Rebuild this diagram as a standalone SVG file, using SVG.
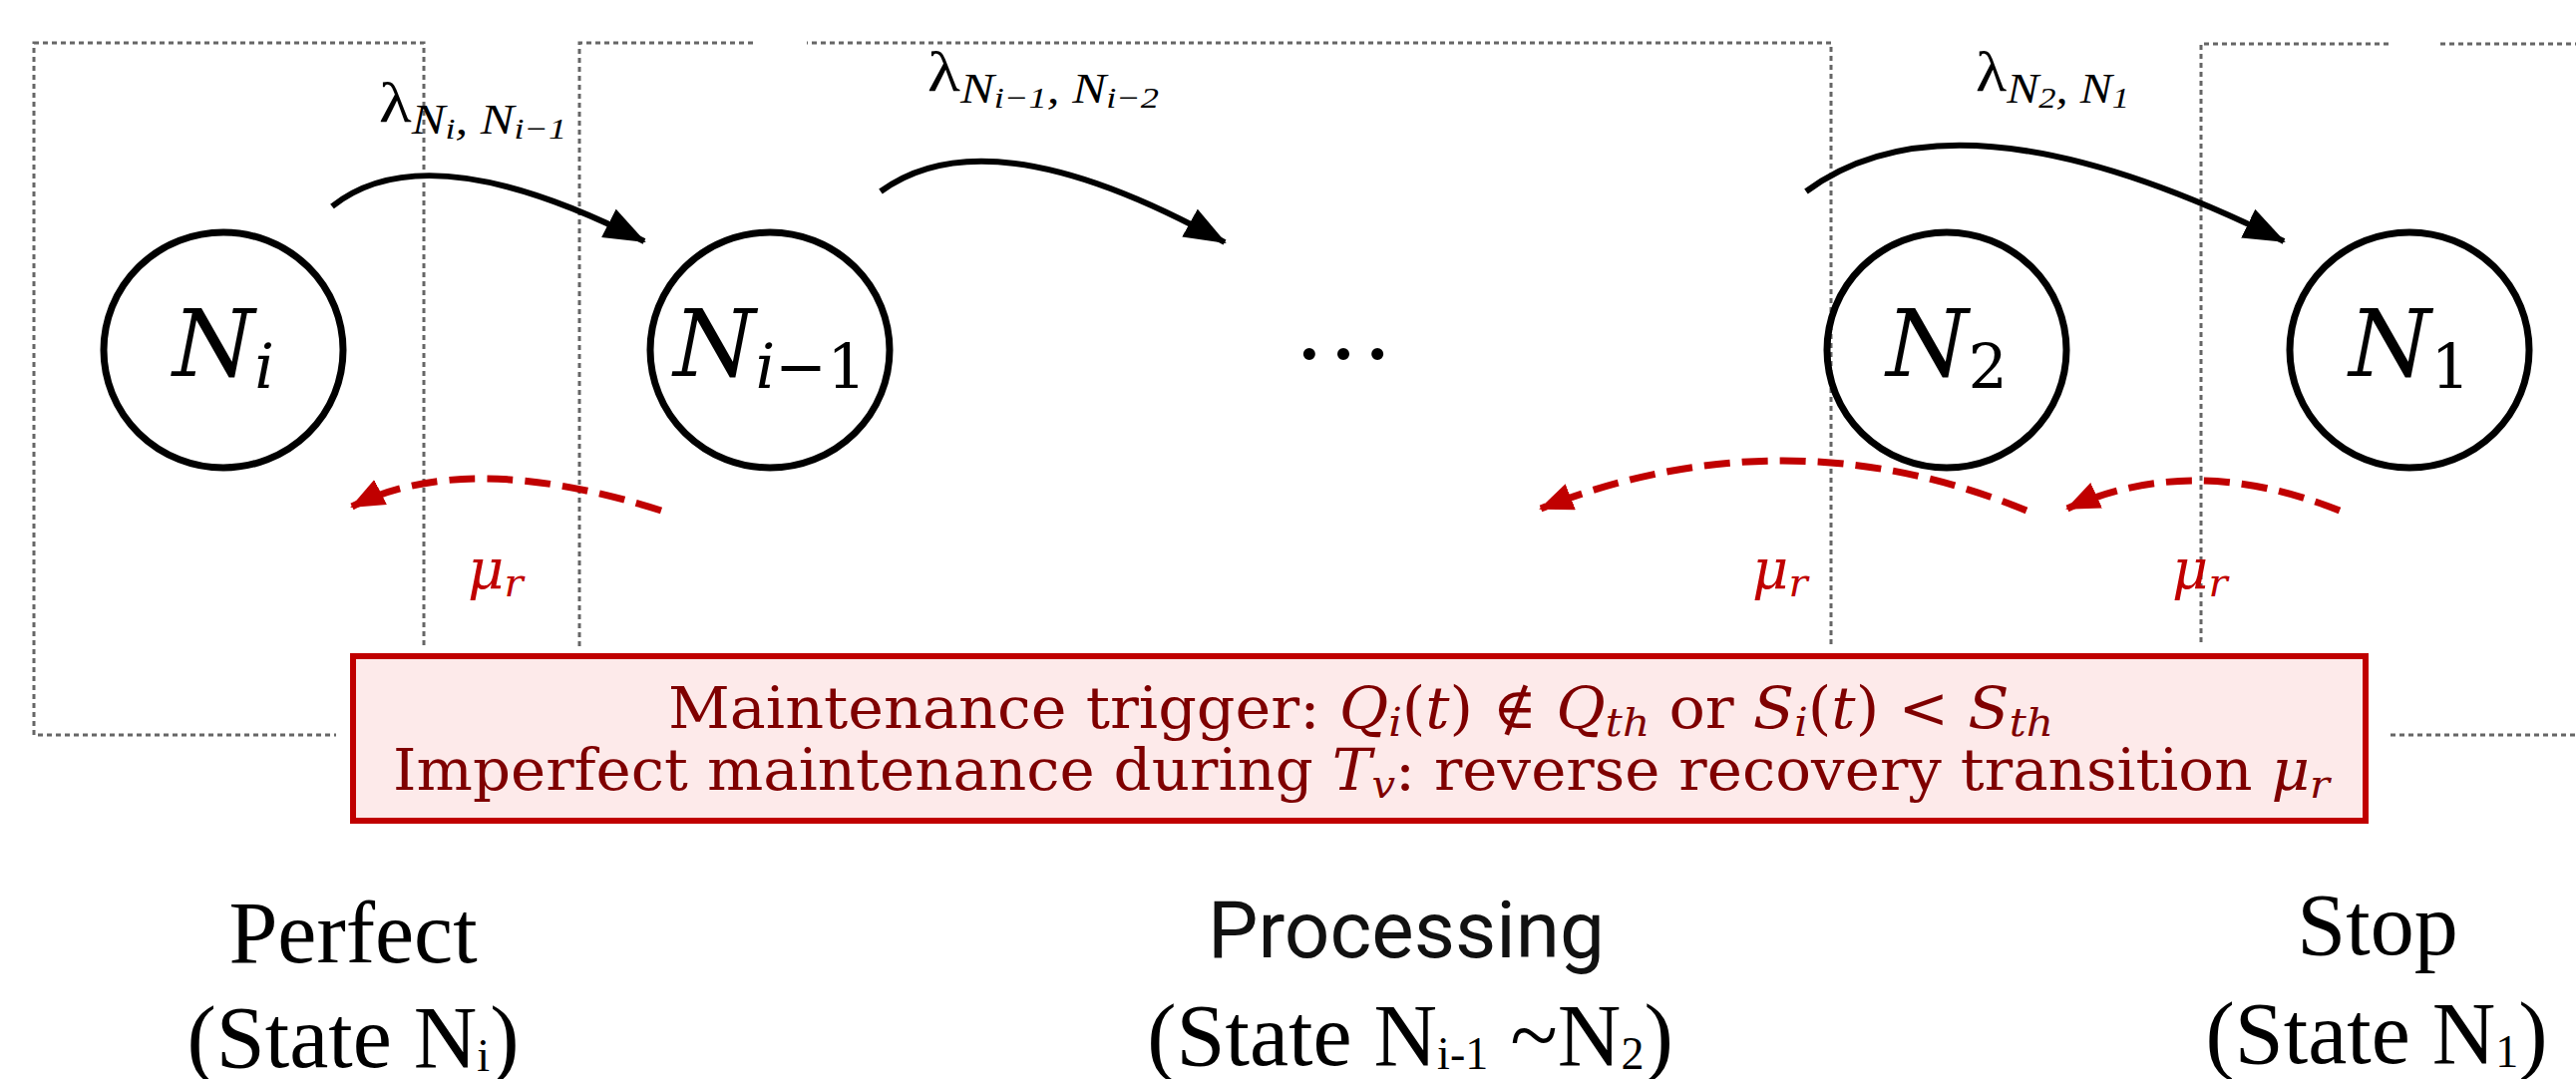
<svg xmlns="http://www.w3.org/2000/svg" width="2583" height="1082" viewBox="0 0 2583 1082">
<defs>
<style>
.region{fill:none;stroke:#666;stroke-width:3;stroke-dasharray:5 4}
.node{fill:none;stroke:#000;stroke-width:7}
.nlab{font-family:"DejaVu Serif",serif;font-style:italic;font-size:94px;fill:#000}
.nsub{font-size:62px}
.up{font-style:normal}
.fwd{fill:none;stroke:#000;stroke-width:6}
.rev{fill:none;stroke:#C00000;stroke-width:7;stroke-dasharray:26 12}
.lam{font-family:"Liberation Serif",serif;font-size:56px;fill:#000}
.lsub{font-style:italic;font-size:42px}
.lss{font-style:italic;font-size:30px}
.mu{font-family:"DejaVu Serif",serif;font-style:italic;font-size:56px;fill:#C00000}
.musub{font-size:40px}
.box{fill:#FDEAEA;stroke:#C00000;stroke-width:6}
.btxt{font-family:"DejaVu Serif",serif;font-size:57px;fill:#7F0000}
.it{font-style:italic}
.sb{font-size:40px}
.cap{font-family:"Liberation Serif",serif;font-size:88px;fill:#000;text-anchor:middle}
.capsans{font-family:Roboto,"Open Sans",sans-serif;font-size:80px;fill:#111;text-anchor:middle}
.csub{font-size:46px}
</style>
<marker id="ah" markerUnits="userSpaceOnUse" viewBox="0 0 42 32" refX="40" refY="16" markerWidth="42" markerHeight="32" orient="auto"><path d="M0,0 L42,16 L0,32 z" fill="#000"/></marker>
<marker id="ahr" markerUnits="userSpaceOnUse" viewBox="0 0 34 28" refX="32" refY="14" markerWidth="34" markerHeight="28" orient="auto"><path d="M0,0 L34,14 L0,28 z" fill="#C00000"/></marker>
</defs>
<rect width="2583" height="1082" fill="#fff"/>

<g id="region-perfect"><path class="region" d="M34,43 H425 V737 H34 Z"/></g>
<g id="region-processing"><path class="region" d="M755,43 H581 V737 H1836 V43 H809"/></g>
<g id="region-stop"><path class="region" d="M2395,44 H2207 V737 H2600 M2447,44 H2600"/></g>

<g id="node-Ni">
<ellipse class="node" cx="224" cy="351" rx="120" ry="118"/>
<text class="nlab" x="224" y="377" text-anchor="middle">N<tspan class="nsub" dy="12">i</tspan></text>
</g>
<g id="node-Ni-1">
<ellipse class="node" cx="772" cy="351" rx="120" ry="118"/>
<text class="nlab" x="772" y="377" text-anchor="middle">N<tspan class="nsub" dy="12">i</tspan><tspan class="nsub up">−1</tspan></text>
</g>
<g id="ellipsis">
<text x="1347" y="360" font-family="Liberation Serif, serif" font-size="102" text-anchor="middle" fill="#000">…</text>
</g>
<g id="node-N2">
<ellipse class="node" cx="1952" cy="351" rx="120" ry="118"/>
<text class="nlab" x="1952" y="377" text-anchor="middle">N<tspan class="nsub up" dy="12">2</tspan></text>
</g>
<g id="node-N1">
<ellipse class="node" cx="2416" cy="351" rx="120" ry="118"/>
<text class="nlab" x="2416" y="377" text-anchor="middle">N<tspan class="nsub up" dy="12">1</tspan></text>
</g>

<g id="connectors">
<path class="fwd" d="M333,207 Q428,131 646,242" marker-end="url(#ah)"/>
<path class="fwd" d="M883,192 Q992,112 1228,243" marker-end="url(#ah)"/>
<path class="fwd" d="M1811,192 Q1963,79 2290,242" marker-end="url(#ah)"/>
<path class="rev" d="M663,512 Q468,450 353,508" marker-end="url(#ahr)"/>
<path class="rev" d="M2032,512 Q1791,413 1545,510" marker-end="url(#ahr)"/>
<path class="rev" d="M2346,512 Q2198,453 2073,510" marker-end="url(#ahr)"/>
<text class="lam" x="380" y="122" textLength="188" lengthAdjust="spacingAndGlyphs">λ<tspan class="lsub" dy="12">N</tspan><tspan class="lss" dy="5">i</tspan><tspan class="lsub" dy="-5">, N</tspan><tspan class="lss" dy="5">i</tspan><tspan class="lss up">−1</tspan></text>
<text class="lam" x="930" y="91" textLength="232" lengthAdjust="spacingAndGlyphs">λ<tspan class="lsub" dy="12">N</tspan><tspan class="lss" dy="5">i</tspan><tspan class="lss up">−1</tspan><tspan class="lsub" dy="-5">, N</tspan><tspan class="lss" dy="5">i</tspan><tspan class="lss up">−2</tspan></text>
<text class="lam" x="1981" y="91" textLength="154" lengthAdjust="spacingAndGlyphs">λ<tspan class="lsub" dy="12">N</tspan><tspan class="lss up" dy="5">2</tspan><tspan class="lsub" dy="-5">, N</tspan><tspan class="lss up" dy="5">1</tspan></text>
<text class="mu" x="469" y="590">μ<tspan class="musub" dy="8">r</tspan></text>
<text class="mu" x="1757" y="590">μ<tspan class="musub" dy="8">r</tspan></text>
<text class="mu" x="2178" y="590">μ<tspan class="musub" dy="8">r</tspan></text>
</g>

<g id="maintenance-note">
<rect x="337" y="648" width="2060" height="190" fill="#fff"/>
<rect class="box" x="354" y="658" width="2018" height="165"/>
<text class="btxt" x="670" y="730" textLength="1389" lengthAdjust="spacingAndGlyphs">Maintenance trigger: <tspan class="it">Q</tspan><tspan class="it sb" dy="8">i</tspan><tspan dy="-8">(</tspan><tspan class="it">t</tspan><tspan>) ∉ </tspan><tspan class="it">Q</tspan><tspan class="it sb" dy="8">th</tspan><tspan dy="-8"> or </tspan><tspan class="it">S</tspan><tspan class="it sb" dy="8">i</tspan><tspan dy="-8">(</tspan><tspan class="it">t</tspan><tspan>) &lt; </tspan><tspan class="it">S</tspan><tspan class="it sb" dy="8">th</tspan></text>
<text class="btxt" x="394" y="792" textLength="1942" lengthAdjust="spacingAndGlyphs">Imperfect maintenance during <tspan class="it">T</tspan><tspan class="it sb" dy="8">v</tspan><tspan dy="-8">: reverse recovery transition </tspan><tspan class="it">μ</tspan><tspan class="it sb" dy="8">r</tspan></text>
</g>

<g id="captions">
<text class="cap" x="354" y="965">Perfect</text>
<text class="cap" x="354" y="1070">(State N<tspan class="csub" dy="4">i</tspan><tspan dy="-4">)</tspan></text>
<text class="capsans" x="1410" y="960">Processing</text>
<text class="cap" x="1414" y="1068">(State N<tspan class="csub" dy="4">i-1</tspan><tspan dy="-4"> ~N</tspan><tspan class="csub" dy="4">2</tspan><tspan dy="-4">)</tspan></text>
<text class="cap" x="2384" y="957">Stop</text>
<text class="cap" x="2383" y="1066">(State N<tspan class="csub" dy="4">1</tspan><tspan dy="-4">)</tspan></text>
</g>
</svg>
